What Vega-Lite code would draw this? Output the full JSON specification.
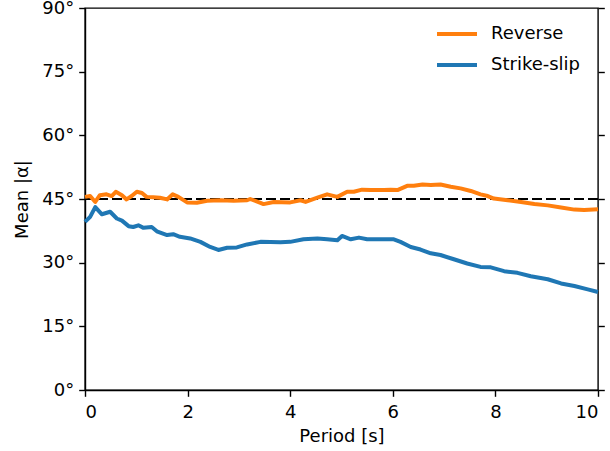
{
  "$schema": "https://vega.github.io/schema/vega-lite/v6.json",
  "width": 513,
  "height": 382,
  "autosize": "none",
  "padding": {"left": 85, "top": 8, "right": 12, "bottom": 61},
  "background": "white",
  "config": {
    "font": "DejaVu Sans",
    "view": {"stroke": "black", "strokeWidth": 1.4},
    "axis": {
      "grid": false,
      "domainColor": "black",
      "domainWidth": 1.4,
      "tickColor": "black",
      "tickWidth": 1.4,
      "tickSize": 6.3,
      "labelColor": "black",
      "labelFontSize": 18,
      "labelFont": "DejaVu Sans",
      "titleFont": "DejaVu Sans",
      "titleFontSize": 18,
      "titleFontWeight": "normal",
      "titleColor": "black"
    },
    "legend": {
      "labelFont": "DejaVu Sans",
      "labelFontSize": 18,
      "labelColor": "black"
    }
  },
  "datasets": {
    "series": [
      {"type": "Reverse", "period": 0, "alpha": 45.5},
      {"type": "Reverse", "period": 0.1, "alpha": 45.7},
      {"type": "Reverse", "period": 0.2, "alpha": 44.3},
      {"type": "Reverse", "period": 0.29, "alpha": 45.9},
      {"type": "Reverse", "period": 0.42, "alpha": 46.1},
      {"type": "Reverse", "period": 0.52, "alpha": 45.7},
      {"type": "Reverse", "period": 0.6, "alpha": 46.7},
      {"type": "Reverse", "period": 0.72, "alpha": 45.9},
      {"type": "Reverse", "period": 0.81, "alpha": 44.9},
      {"type": "Reverse", "period": 0.91, "alpha": 45.7},
      {"type": "Reverse", "period": 1.01, "alpha": 46.7},
      {"type": "Reverse", "period": 1.11, "alpha": 46.4},
      {"type": "Reverse", "period": 1.2, "alpha": 45.5},
      {"type": "Reverse", "period": 1.33, "alpha": 45.4},
      {"type": "Reverse", "period": 1.46, "alpha": 45.3},
      {"type": "Reverse", "period": 1.6, "alpha": 44.9},
      {"type": "Reverse", "period": 1.71, "alpha": 46.1},
      {"type": "Reverse", "period": 1.82, "alpha": 45.5},
      {"type": "Reverse", "period": 1.99, "alpha": 44.2},
      {"type": "Reverse", "period": 2.18, "alpha": 44.1},
      {"type": "Reverse", "period": 2.38, "alpha": 44.6},
      {"type": "Reverse", "period": 2.64, "alpha": 44.7},
      {"type": "Reverse", "period": 2.9, "alpha": 44.6},
      {"type": "Reverse", "period": 3.16, "alpha": 44.7},
      {"type": "Reverse", "period": 3.22, "alpha": 45.0},
      {"type": "Reverse", "period": 3.42, "alpha": 44.1},
      {"type": "Reverse", "period": 3.48, "alpha": 43.8},
      {"type": "Reverse", "period": 3.68, "alpha": 44.3},
      {"type": "Reverse", "period": 4.0, "alpha": 44.2},
      {"type": "Reverse", "period": 4.2, "alpha": 44.7},
      {"type": "Reverse", "period": 4.3, "alpha": 44.3},
      {"type": "Reverse", "period": 4.53, "alpha": 45.3},
      {"type": "Reverse", "period": 4.72, "alpha": 46.1},
      {"type": "Reverse", "period": 4.92, "alpha": 45.5},
      {"type": "Reverse", "period": 5.11, "alpha": 46.7},
      {"type": "Reverse", "period": 5.24, "alpha": 46.7},
      {"type": "Reverse", "period": 5.4, "alpha": 47.2},
      {"type": "Reverse", "period": 5.57, "alpha": 47.1},
      {"type": "Reverse", "period": 5.83, "alpha": 47.1},
      {"type": "Reverse", "period": 5.96, "alpha": 47.2},
      {"type": "Reverse", "period": 6.09, "alpha": 47.1},
      {"type": "Reverse", "period": 6.28, "alpha": 48.1},
      {"type": "Reverse", "period": 6.41, "alpha": 48.1},
      {"type": "Reverse", "period": 6.58, "alpha": 48.4},
      {"type": "Reverse", "period": 6.74, "alpha": 48.3},
      {"type": "Reverse", "period": 6.93, "alpha": 48.4},
      {"type": "Reverse", "period": 7.13, "alpha": 47.9},
      {"type": "Reverse", "period": 7.32, "alpha": 47.5},
      {"type": "Reverse", "period": 7.52, "alpha": 46.9},
      {"type": "Reverse", "period": 7.71, "alpha": 46.1},
      {"type": "Reverse", "period": 7.85, "alpha": 45.7},
      {"type": "Reverse", "period": 7.97, "alpha": 45.1},
      {"type": "Reverse", "period": 8.24, "alpha": 44.7},
      {"type": "Reverse", "period": 8.5, "alpha": 44.3},
      {"type": "Reverse", "period": 8.76, "alpha": 43.8},
      {"type": "Reverse", "period": 9.02, "alpha": 43.5},
      {"type": "Reverse", "period": 9.28, "alpha": 43.0},
      {"type": "Reverse", "period": 9.54, "alpha": 42.5},
      {"type": "Reverse", "period": 9.73, "alpha": 42.4},
      {"type": "Reverse", "period": 10.0, "alpha": 42.6},
      {"type": "Strike-slip", "period": 0, "alpha": 39.6},
      {"type": "Strike-slip", "period": 0.1, "alpha": 40.8},
      {"type": "Strike-slip", "period": 0.2, "alpha": 43.1},
      {"type": "Strike-slip", "period": 0.33, "alpha": 41.4},
      {"type": "Strike-slip", "period": 0.49, "alpha": 42.0},
      {"type": "Strike-slip", "period": 0.62, "alpha": 40.4},
      {"type": "Strike-slip", "period": 0.72, "alpha": 39.9},
      {"type": "Strike-slip", "period": 0.85, "alpha": 38.6},
      {"type": "Strike-slip", "period": 0.94, "alpha": 38.4},
      {"type": "Strike-slip", "period": 1.04, "alpha": 38.8},
      {"type": "Strike-slip", "period": 1.14, "alpha": 38.2},
      {"type": "Strike-slip", "period": 1.3, "alpha": 38.4},
      {"type": "Strike-slip", "period": 1.4, "alpha": 37.4},
      {"type": "Strike-slip", "period": 1.6, "alpha": 36.5},
      {"type": "Strike-slip", "period": 1.72, "alpha": 36.7},
      {"type": "Strike-slip", "period": 1.85, "alpha": 36.1},
      {"type": "Strike-slip", "period": 2.05, "alpha": 35.7},
      {"type": "Strike-slip", "period": 2.25, "alpha": 34.9},
      {"type": "Strike-slip", "period": 2.44, "alpha": 33.7},
      {"type": "Strike-slip", "period": 2.6, "alpha": 33.0},
      {"type": "Strike-slip", "period": 2.77, "alpha": 33.5},
      {"type": "Strike-slip", "period": 2.96, "alpha": 33.6},
      {"type": "Strike-slip", "period": 3.16, "alpha": 34.3},
      {"type": "Strike-slip", "period": 3.42, "alpha": 34.9},
      {"type": "Strike-slip", "period": 3.81, "alpha": 34.8},
      {"type": "Strike-slip", "period": 4.0, "alpha": 34.9},
      {"type": "Strike-slip", "period": 4.26, "alpha": 35.5},
      {"type": "Strike-slip", "period": 4.53, "alpha": 35.7},
      {"type": "Strike-slip", "period": 4.72, "alpha": 35.5},
      {"type": "Strike-slip", "period": 4.92, "alpha": 35.3},
      {"type": "Strike-slip", "period": 5.01, "alpha": 36.3},
      {"type": "Strike-slip", "period": 5.18, "alpha": 35.5},
      {"type": "Strike-slip", "period": 5.34, "alpha": 35.9},
      {"type": "Strike-slip", "period": 5.5, "alpha": 35.5},
      {"type": "Strike-slip", "period": 5.66, "alpha": 35.5},
      {"type": "Strike-slip", "period": 5.83, "alpha": 35.5},
      {"type": "Strike-slip", "period": 6.02, "alpha": 35.5},
      {"type": "Strike-slip", "period": 6.15, "alpha": 34.9},
      {"type": "Strike-slip", "period": 6.35, "alpha": 33.7},
      {"type": "Strike-slip", "period": 6.54, "alpha": 33.1},
      {"type": "Strike-slip", "period": 6.74, "alpha": 32.2},
      {"type": "Strike-slip", "period": 6.93, "alpha": 31.8},
      {"type": "Strike-slip", "period": 7.19, "alpha": 30.8},
      {"type": "Strike-slip", "period": 7.45, "alpha": 29.8},
      {"type": "Strike-slip", "period": 7.71, "alpha": 29.0},
      {"type": "Strike-slip", "period": 7.91, "alpha": 28.9},
      {"type": "Strike-slip", "period": 8.17, "alpha": 28.0},
      {"type": "Strike-slip", "period": 8.43, "alpha": 27.6},
      {"type": "Strike-slip", "period": 8.69, "alpha": 26.8},
      {"type": "Strike-slip", "period": 9.02, "alpha": 26.1},
      {"type": "Strike-slip", "period": 9.28, "alpha": 25.1},
      {"type": "Strike-slip", "period": 9.54, "alpha": 24.5},
      {"type": "Strike-slip", "period": 9.8, "alpha": 23.7},
      {"type": "Strike-slip", "period": 10.0, "alpha": 23.1}
    ],
    "reference": [{"level": 45}]
  },
  "layer": [
    {
      "data": {"name": "reference"},
      "mark": {"type": "rule", "color": "black", "strokeWidth": 2.2, "strokeDash": [10, 4]},
      "encoding": {
        "y": {
          "field": "level",
          "type": "quantitative",
          "scale": {"domain": [0, 90], "nice": false},
          "axis": {"orient": "right", "labels": false, "title": null, "values": [0, 15, 30, 45, 60, 75, 90], "domain": false}
        }
      }
    },
    {
      "data": {"name": "series"},
      "mark": {"type": "line", "strokeWidth": 4, "strokeJoin": "round"},
      "encoding": {
        "x": {
          "field": "period",
          "type": "quantitative",
          "scale": {"domain": [0, 10], "nice": false, "zero": false},
          "axis": {"title": "Period [s]", "values": [0, 2, 4, 6, 8, 10], "format": "d", "labelPadding": 7, "titlePadding": 6}
        },
        "y": {
          "field": "alpha",
          "type": "quantitative",
          "scale": {"domain": [0, 90], "nice": false},
          "axis": {"orient": "left", "title": "Mean |α|", "values": [0, 15, 30, 45, 60, 75, 90], "labelExpr": "datum.value + '°'", "labelPadding": 5, "titlePadding": 10}
        },
        "color": {
          "field": "type",
          "type": "nominal",
          "scale": {"domain": ["Reverse", "Strike-slip"], "range": ["#ff7f0e", "#1f77b4"]},
          "legend": {
            "title": null,
            "orient": "none",
            "legendX": 350,
            "legendY": 4,
            "symbolType": "stroke",
            "symbolSize": 1600,
            "symbolStrokeWidth": 4,
            "labelOffset": 12,
            "rowPadding": -12,
            "padding": 0
          }
        }
      }
    }
  ],
  "resolve": {"axis": {"y": "independent"}}
}
